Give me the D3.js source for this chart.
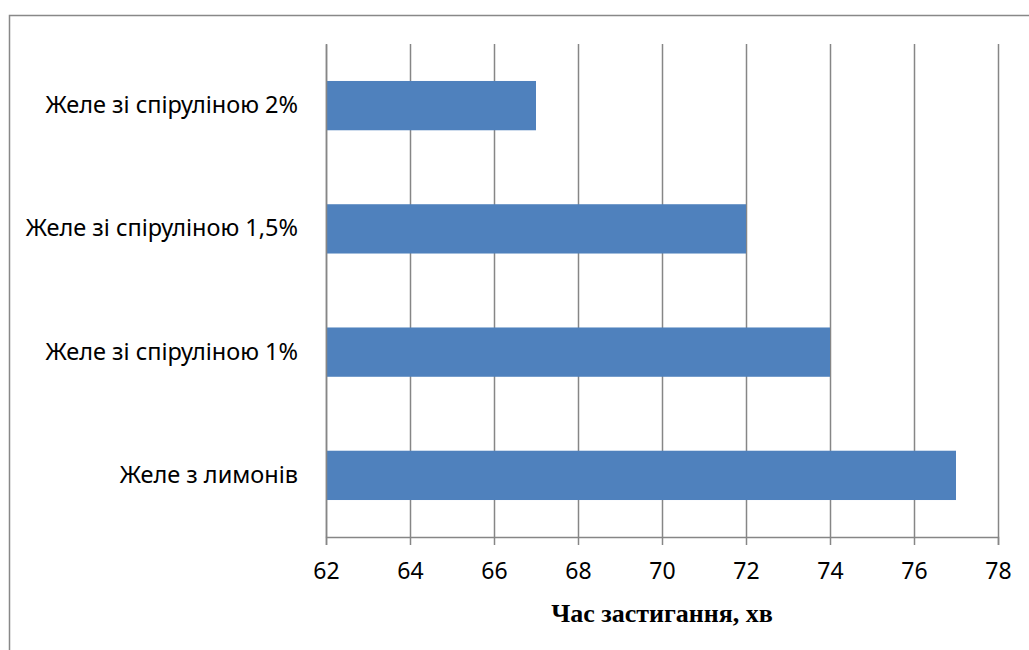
<!DOCTYPE html>
<html>
<head>
<meta charset="utf-8">
<script src="https://cdn.jsdelivr.net/npm/d3@7"></script>
<style>
  body { margin: 0; background: #fff; }
  svg { display: block; }
</style>
</head>
<body>
<div id="chart-area"></div>
<script>
// categories top to bottom, values in minutes
const categories = ["Желе зі спіруліною 2%", "Желе зі спіруліною 1,5%", "Желе зі спіруліною 1%", "Желе з лимонів"]
const values = [67, 72, 74, 77]
const xTicks = [62, 64, 66, 68, 70, 72, 74, 76, 78]
const xTitle = "Час застигання, хв"

const W = 1029, H = 650
const PLOT = {LEFT: 326, RIGHT: 998, TOP: 44, BOTTOM: 537}

const svg = d3.select("#chart-area").append("svg")
  .attr("width", W)
  .attr("height", H)

// outer frame (runs past right and bottom edge)
svg.append("rect")
  .attr("x", 9.5).attr("y", 15.5)
  .attr("width", W + 20).attr("height", H + 20)
  .attr("fill", "none")
  .attr("stroke", "#888")
  .attr("stroke-width", 1.5)

const x = d3.scaleLinear()
  .domain([62, 78])
  .range([PLOT.LEFT, PLOT.RIGHT])

const y = d3.scaleBand()
  .domain(categories)
  .range([PLOT.TOP, PLOT.BOTTOM])
  .paddingInner(0.6)
  .paddingOuter(0.3)

// vertical grid lines
svg.append("g")
  .selectAll("line")
  .data(xTicks)
  .enter().append("line")
  .attr("x1", d => Math.round(x(d)) + 0.5)
  .attr("x2", d => Math.round(x(d)) + 0.5)
  .attr("y1", PLOT.TOP)
  .attr("y2", PLOT.BOTTOM)
  .attr("stroke", "#868686")
  .attr("stroke-width", 1.5)

// bars
svg.append("g")
  .selectAll("rect")
  .data(values)
  .enter().append("rect")
  .attr("x", x(62))
  .attr("y", (d, i) => y(categories[i]))
  .attr("width", d => x(d) - x(62))
  .attr("height", y.bandwidth())
  .attr("fill", "#4f81bd")

// x axis
const xAxis = d3.axisBottom(x)
  .tickValues(xTicks)
  .tickSize(8)
  .tickPadding(18)
const xAxisGroup = svg.append("g")
  .attr("transform", `translate(0, ${PLOT.BOTTOM})`)
  .call(xAxis)
xAxisGroup.select(".domain").attr("stroke", "#868686").attr("stroke-width", 1.5)
xAxisGroup.selectAll(".tick line").attr("stroke", "#868686").attr("stroke-width", 1.5)
xAxisGroup.selectAll("text")
  .attr("font-family", "'Noto Sans', sans-serif")
  .attr("font-size", "23px")
  .attr("fill", "#000")

// y axis line + category labels
const yAxis = d3.axisLeft(y).tickSize(0).tickPadding(28)
const yAxisGroup = svg.append("g")
  .attr("transform", `translate(${PLOT.LEFT}, 0)`)
  .call(yAxis)
yAxisGroup.select(".domain").attr("stroke", "#868686").attr("stroke-width", 1.5)
yAxisGroup.selectAll("text")
  .attr("font-family", "'Noto Sans', sans-serif")
  .attr("font-size", "23.5px")
  .attr("fill", "#000")

// axis title
svg.append("text")
  .attr("x", 662)
  .attr("y", 622)
  .attr("text-anchor", "middle")
  .attr("font-family", "'Liberation Serif', serif")
  .attr("font-weight", "bold")
  .attr("font-size", "26px")
  .text(xTitle)
</script>
</body>
</html>
